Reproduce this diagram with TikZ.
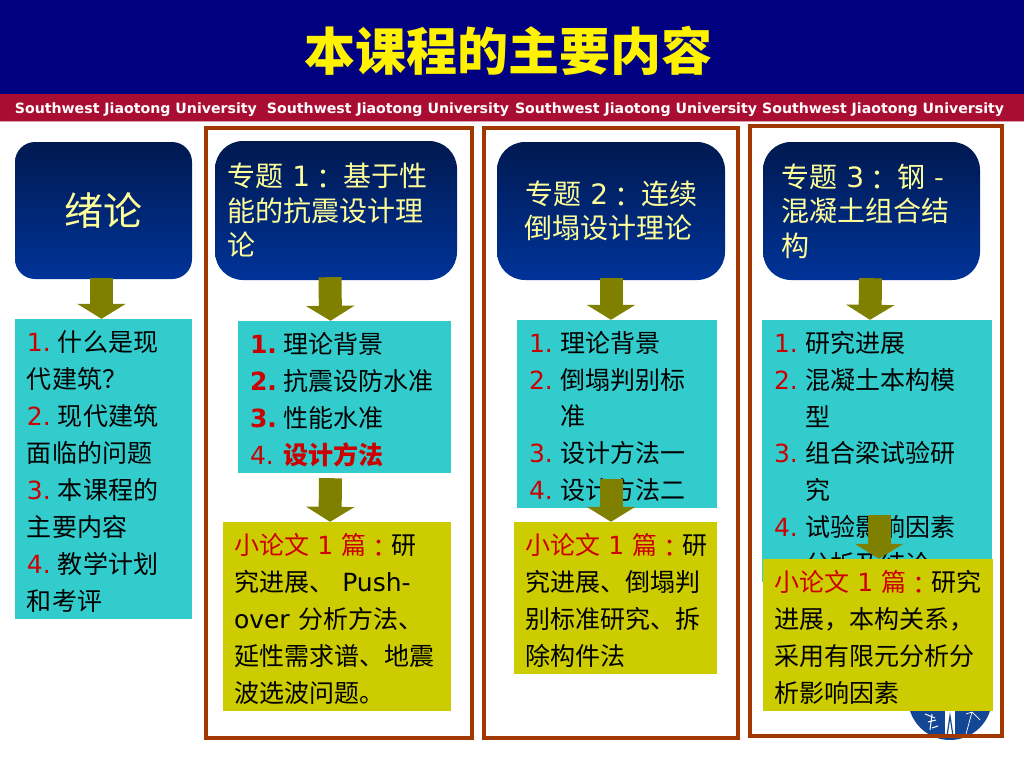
\documentclass[tikz,border=0pt]{standalone}
\usepackage{fontspec}
\setmainfont{Noto Sans CJK SC}
\newfontfamily\latn{DejaVu Sans}
\newfontfamily\tcfont{Noto Sans CJK TC}
\usetikzlibrary{arrows.meta}
\definecolor{navybar}{RGB}{0,0,128}
\definecolor{crimsonbar}{RGB}{170,13,50}
\definecolor{framered}{RGB}{160,56,0}
\definecolor{headtop}{RGB}{0,25,80}
\definecolor{headbot}{RGB}{0,51,153}
\definecolor{headtext}{RGB}{255,255,153}
\definecolor{listcyan}{RGB}{51,204,204}
\definecolor{noteyellow}{RGB}{204,204,0}
\definecolor{arrowolive}{RGB}{128,128,0}
\definecolor{numred}{RGB}{204,0,0}
\definecolor{logoblue}{RGB}{20,70,150}
\newcommand{\itm}[2][31pt]{\makebox[#1][l]{\textcolor{numred}{\latn #2}}}
\newcommand{\itb}[2][33pt]{\makebox[#1][l]{\textcolor{numred}{\latn\bfseries #2}}}
\newcommand{\pad}{\hspace*{31pt}}
\newcommand{\cln}{\raisebox{-2.5pt}{\tcfont ：}}
\newcommand{\hcln}{\hspace{-1pt}\raisebox{-3pt}{\tcfont ：}\hspace{6pt}}
\newcommand{\paper}{\textcolor{numred}{小论文~{\latn 1}~篇\cln}}
\begin{document}
\begin{tikzpicture}[x=1pt, y=-1pt,
  headbox/.style={rounded corners=20pt, top color=headtop, bottom color=headbot, text=headtext, align=left, inner xsep=12pt, inner ysep=0pt, font=\fontsize{28}{34.5}\selectfont},
  listbox/.style={fill=listcyan, align=left, inner xsep=12pt, inner ysep=0pt, font=\fontsize{25}{36.9}\selectfont, execute at begin node={\rule{0pt}{26pt}}},
  notebox/.style={fill=noteyellow, align=left, inner xsep=11pt, inner ysep=0pt, font=\fontsize{25}{36.9}\selectfont, execute at begin node={\rule{0pt}{26pt}}},
  frame/.style={draw=framered, line width=3.7pt},
  bigarrow/.style={draw=arrowolive, line width=23pt, -{Triangle[width=48pt,length=15pt]}}]
  \useasboundingbox (0,0) rectangle (1024,768);
  \fill[navybar] (0,0) rectangle (1024,94);
  \fill[crimsonbar] (0,94) rectangle (1024,121);
  \fill[crimsonbar!40!white] (0,121) rectangle (1024,122);
  \node[text=yellow, inner sep=0pt, font=\fontsize{51}{51}\selectfont\bfseries] (title) at (508,51) {本课程的主要内容};
  \node[text=white, inner sep=0pt, font=\fontsize{14.15}{15}\selectfont\latn\bfseries] (banner) at (509.5,110) {Southwest Jiaotong University\hspace{10pt}Southwest Jiaotong University\hspace{6pt}Southwest Jiaotong University\hspace{5pt}Southwest Jiaotong University};
  % logo behind the last column
  \fill[logoblue] (950,698) circle (42);
  \fill[white] (945,705) rectangle (955,738);
  \draw[logoblue, line width=1.2pt] (947,736) -- (950,716) -- (953,736);
  \draw[white, line width=1pt] (925,714) -- (935,718) (928,722) -- (936,720) (932,728) -- (938,726) (932,714) -- (930,730);
  \draw[white, line width=0.7pt] (966,734) -- (972,712) (972,712) -- (966,714) (972,712) -- (980,720);
  \draw[frame] (206,128) rectangle (472,738);
  \draw[frame] (484,128) rectangle (738,738);
  \draw[frame] (750,126) rectangle (1002,736);
  % headers
  \node[headbox, minimum width=177pt, minimum height=137pt, text width=153pt, align=center, font=\fontsize{39}{40}\selectfont] (hd0) at (103.5,210.5) {\raisebox{-4pt}{绪论}};
  \node[headbox, rounded corners=28pt, minimum width=242pt, minimum height=139pt, text width=218pt] (hd1) at (336,210.5) {专题 {\latn 1}\hcln 基于性\\能的抗震设计理\\论};
  \node[headbox, rounded corners=28pt, minimum width=228pt, minimum height=138pt, text width=204pt] (hd2) at (611,211) {\hspace*{16pt}专题 {\latn 2}\hcln 连续\\\hspace*{15pt}倒塌设计理论};
  \node[headbox, rounded corners=28pt, minimum width=217pt, minimum height=138pt, text width=193pt] (hd3) at (871.5,211) {\hspace*{6pt}专题 {\latn 3}\hcln 钢 -\\\hspace*{6pt}混凝土组合结\\\hspace*{6pt}构};
  % topic lists
  \node[listbox, minimum width=177pt, minimum height=300pt, text width=153pt] (list0) at (103.5,469) {\itm{1.}什么是现\\代建筑？\\\itm{2.}现代建筑\\面临的问题\\\itm{3.}本课程的\\主要内容\\\itm{4.}教学计划\\和考评};
  \node[listbox, minimum width=213pt, minimum height=152pt, text width=189pt] (list1) at (344.5,397) {\itb{1.}理论背景\\\itb{2.}抗震设防水准\\\itb{3.}性能水准\\\itm[33pt]{4.}\textcolor{numred}{\bfseries 设计方法}};
  \node[listbox, minimum width=200pt, minimum height=188pt, text width=176pt] (list2) at (617,414) {\itm{1.}理论背景\\\itm{2.}倒塌判别标\\\pad 准\\\itm{3.}设计方法一\\\itm{4.}设计方法二};
  \node[listbox, minimum width=230pt, minimum height=262pt, text width=206pt] (list3) at (877,451) {\itm{1.}研究进展\\\itm{2.}混凝土本构模\\\pad 型\\\itm{3.}组合梁试验研\\\pad 究\\\itm{4.}试验影响因素\\\pad 分析及结论};
  % paper notes
  \node[notebox, minimum width=228pt, minimum height=189pt, text width=206pt] (note1) at (337,616.5) {\paper 研\\究进展、 {\latn Push-}\\{\latn over} 分析方法、\\延性需求谱、地震\\波选波问题。};
  \node[notebox, minimum width=203pt, minimum height=152pt, text width=181pt] (note2) at (615.5,598) {\paper 研\\究进展、倒塌判\\别标准研究、拆\\除构件法};
  \node[notebox, minimum width=230pt, minimum height=152pt, text width=208pt] (note3) at (878,635) {\paper 研究\\进展，本构关系，\\采用有限元分析分\\析影响因素};
  % arrows
  \draw[bigarrow] ([xshift=-2pt,yshift=1pt]hd0.south) -- ([xshift=-2pt]list0.north);
  \draw[bigarrow] ([xshift=-6pt,yshift=3pt]hd1.south) -- ([xshift=-14pt]list1.north);
  \draw[bigarrow] ([yshift=2pt]hd2.south) -- ([xshift=-6pt]list2.north);
  \draw[bigarrow] ([xshift=-1pt,yshift=2pt]hd3.south) -- ([xshift=-7pt]list3.north);
  \coordinate (a1) at ([xshift=-14pt,yshift=-5pt]list1.south);
  \coordinate (a2) at ([xshift=-6pt,yshift=29pt]list2.south);
  \coordinate (a3) at ([xshift=2pt,yshift=67pt]list3.south);
  \draw[bigarrow] (a1) -- ([xshift=-7pt]note1.north);
  \draw[bigarrow] (a2) -- ([xshift=-4.5pt]note2.north);
  \draw[bigarrow] (a3) -- ([xshift=1pt]note3.north);
\end{tikzpicture}
\end{document}
